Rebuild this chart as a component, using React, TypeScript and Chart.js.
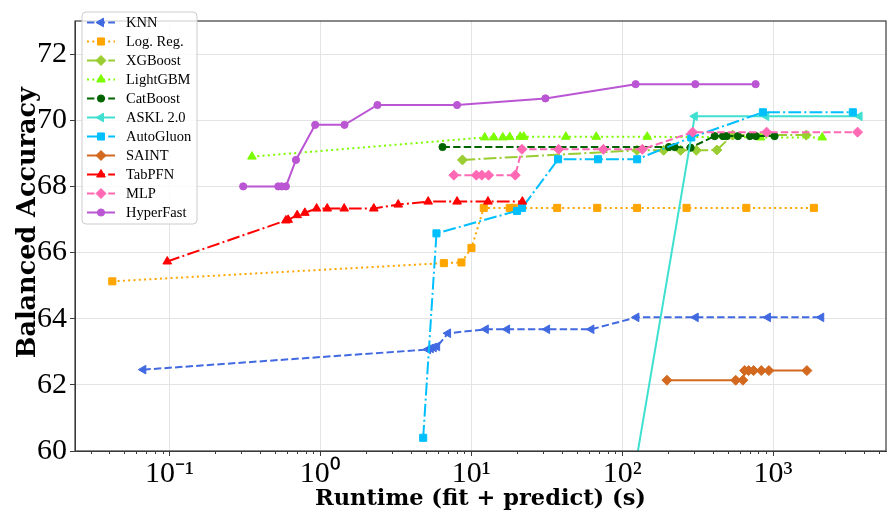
import React, { useEffect, useRef } from 'react';
import { Chart, registerables } from 'chart.js';

Chart.register(...registerables);

// ---------------- data ----------------
const seriesNames = ['KNN', 'Log. Reg.', 'XGBoost', 'LightGBM', 'CatBoost', 'ASKL 2.0', 'AutoGluon', 'SAINT', 'TabPFN', 'MLP', 'HyperFast'];

const knnX = [0.0671, 5.17, 5.39, 5.64, 5.94, 7.02, 12.48, 17.27, 31.8, 62.5, 124.2, 307, 924, 2085];
const knnY = [62.46, 63.07, 63.1, 63.13, 63.16, 63.56, 63.68, 63.68, 63.68, 63.68, 64.04, 64.04, 64.04, 64.04];

const logRegX = [0.0418, 6.58, 8.61, 10.03, 12.1, 17.99, 19.1, 37.1, 68.3, 125.3, 267, 665, 1863];
const logRegY = [65.13, 65.68, 65.7, 66.14, 67.35, 67.35, 67.35, 67.35, 67.35, 67.35, 67.35, 67.35, 67.35];

const xgbX = [8.74, 125.3, 188.3, 244, 310, 424, 539, 1659];
const xgbY = [68.8, 69.09, 69.09, 69.09, 69.09, 69.1, 69.55, 69.55];

const lgbmX = [0.352, 12.28, 14.09, 16.17, 17.99, 21.1, 22.27, 42.3, 67.3, 146.5, 826, 2118];
const lgbmY = [68.9, 69.48, 69.48, 69.48, 69.49, 69.5, 69.5, 69.5, 69.5, 69.5, 69.48, 69.48];

const catX = [6.45, 204, 222.6, 284, 410, 465, 492, 585, 702, 769, 1023];
const catY = [69.19, 69.19, 69.19, 69.17, 69.52, 69.52, 69.52, 69.52, 69.52, 69.52, 69.52];

const asklX = [100, 302.6, 901, 3741];
const asklY = [57.2, 70.12, 70.12, 70.12];

const autoGluonX = [4.8, 5.88, 20.1, 21.7, 37.6, 69.2, 125.7, 287, 856, 3376];
const autoGluonY = [60.4, 66.58, 67.26, 67.35, 68.82, 68.82, 68.82, 69.48, 70.24, 70.24];

const saintX = [198, 565, 631, 648, 688, 743, 835, 938, 1675];
const saintY = [62.14, 62.14, 62.14, 62.43, 62.43, 62.43, 62.43, 62.43, 62.43];

const tabPfnX = [0.0967, 0.591, 0.612, 0.702, 0.789, 0.944, 1.11, 1.438, 2.26, 3.28, 5.18, 8.05, 12.9, 21.8];
const tabPfnY = [65.73, 66.97, 66.99, 67.13, 67.2, 67.33, 67.33, 67.33, 67.33, 67.45, 67.54, 67.54, 67.54, 67.54];

const mlpX = [7.66, 10.8, 11.74, 13.02, 19.56, 21.67, 37.9, 75.1, 136, 293, 906, 3630];
const mlpY = [68.34, 68.34, 68.34, 68.34, 68.34, 69.12, 69.12, 69.12, 69.12, 69.64, 69.64, 69.64];

const hyperFastX = [0.308, 0.526, 0.553, 0.591, 0.689, 0.924, 1.445, 2.39, 8.05, 31.0, 122.8, 305, 766];
const hyperFastY = [68.0, 68.0, 68.0, 68.0, 68.8, 69.86, 69.86, 70.46, 70.46, 70.66, 71.09, 71.09, 71.09];

const xTickValues = [0.1, 1, 10, 100, 1000];
const xTickLabels = ['10\u207B\u00B9', '10\u2070', '10\u00B9', '10\u00B2', '10\u00B3'];
const yTickValues = [60, 62, 64, 66, 68, 70, 72];

const X_MIN = 0.02366;
const X_MAX = 5600;
const Y_MIN = 60;
const Y_MAX = 73;

// ---------------- styles ----------------
const DASHED = [7.4, 3.2];
const DOTTED = [2, 3.3];
const DASHDOT = [12.8, 3.2, 2, 3.2];
const SOLID: number[] = [];

type Style = { color: string; dash: number[]; marker: string; rot: number; r: number };
const styles: Style[] = [
  { color: '#4169E1', dash: DASHED, marker: 'triangle', rot: -90, r: 5 },
  { color: '#FFA500', dash: DOTTED, marker: 'rect', rot: 0, r: 5 },
  { color: '#9ACD32', dash: DASHDOT, marker: 'rectRot', rot: 0, r: 5 },
  { color: '#7CFC00', dash: DOTTED, marker: 'triangle', rot: 0, r: 5 },
  { color: '#006400', dash: DASHED, marker: 'circle', rot: 0, r: 3.6 },
  { color: '#40E0D0', dash: SOLID, marker: 'triangle', rot: -90, r: 5 },
  { color: '#00BFFF', dash: DASHDOT, marker: 'rect', rot: 0, r: 5 },
  { color: '#D2691E', dash: SOLID, marker: 'rectRot', rot: 0, r: 5 },
  { color: '#FF0000', dash: DASHDOT, marker: 'triangle', rot: 0, r: 5 },
  { color: '#FF69B4', dash: DASHED, marker: 'rectRot', rot: 0, r: 5 },
  { color: '#BA55D3', dash: SOLID, marker: 'circle', rot: 0, r: 3.6 },
];

const seriesX = [knnX, logRegX, xgbX, lgbmX, catX, asklX, autoGluonX, saintX, tabPfnX, mlpX, hyperFastX];
const seriesY = [knnY, logRegY, xgbY, lgbmY, catY, asklY, autoGluonY, saintY, tabPfnY, mlpY, hyperFastY];

const SPINE = '#3a3a3a';
const GRID = '#e4e4e4';

function drawMarker(ctx: CanvasRenderingContext2D, kind: string, x: number, y: number, r: number, rotDeg: number) {
  ctx.beginPath();
  if (kind === 'circle') {
    ctx.arc(x, y, r, 0, Math.PI * 2);
  } else if (kind === 'rect') {
    const s = Math.SQRT1_2 * r;
    ctx.rect(x - s, y - s, 2 * s, 2 * s);
  } else if (kind === 'rectRot') {
    ctx.moveTo(x - r, y);
    ctx.lineTo(x, y - r);
    ctx.lineTo(x + r, y);
    ctx.lineTo(x, y + r);
    ctx.closePath();
  } else {
    let rad = (rotDeg * Math.PI) / 180;
    ctx.moveTo(x + Math.sin(rad) * r, y - Math.cos(rad) * r);
    for (let k = 0; k < 2; k++) {
      rad += (2 * Math.PI) / 3;
      ctx.lineTo(x + Math.sin(rad) * r, y - Math.cos(rad) * r);
    }
    ctx.closePath();
  }
  ctx.fill();
  ctx.stroke();
}

const decorPlugin = {
  id: 'decor',
  afterDatasetsDraw(chart: any) {
    const { ctx, chartArea } = chart;
    const { left, right, top, bottom } = chartArea;
    const xs = chart.scales.x;
    ctx.save();
    // minor ticks on x axis
    ctx.strokeStyle = SPINE;
    ctx.lineWidth = 1;
    ctx.setLineDash([]);
    ctx.beginPath();
    for (let d = -2; d <= 3; d++) {
      for (let k = 2; k <= 9; k++) {
        const v = k * Math.pow(10, d);
        if (v < X_MIN || v > X_MAX) continue;
        const px = Math.round(xs.getPixelForValue(v)) + 0.5;
        ctx.moveTo(px, bottom);
        ctx.lineTo(px, bottom + 3);
      }
    }
    ctx.stroke();
    // frame
    ctx.strokeStyle = SPINE;
    ctx.lineWidth = 1.2;
    ctx.strokeRect(left, top, right - left, bottom - top);

    // legend
    const lx = 82, ly = 12, lw = 115, lh = 212, rr = 4;
    ctx.beginPath();
    ctx.moveTo(lx + rr, ly);
    ctx.lineTo(lx + lw - rr, ly);
    ctx.quadraticCurveTo(lx + lw, ly, lx + lw, ly + rr);
    ctx.lineTo(lx + lw, ly + lh - rr);
    ctx.quadraticCurveTo(lx + lw, ly + lh, lx + lw - rr, ly + lh);
    ctx.lineTo(lx + rr, ly + lh);
    ctx.quadraticCurveTo(lx, ly + lh, lx, ly + lh - rr);
    ctx.lineTo(lx, ly + rr);
    ctx.quadraticCurveTo(lx, ly, lx + rr, ly);
    ctx.closePath();
    ctx.fillStyle = 'rgba(255,255,255,0.8)';
    ctx.fill();
    ctx.strokeStyle = '#cccccc';
    ctx.lineWidth = 1;
    ctx.stroke();

    ctx.font = '14.5px "Liberation Serif"';
    ctx.textBaseline = 'middle';
    ctx.textAlign = 'left';
    seriesNames.forEach((name, i) => {
      const st = styles[i];
      const ry = 22.5 + i * 19;
      ctx.strokeStyle = st.color;
      ctx.lineWidth = 2;
      ctx.setLineDash(st.dash);
      ctx.beginPath();
      ctx.moveTo(87, ry);
      ctx.lineTo(115, ry);
      ctx.stroke();
      ctx.setLineDash([]);
      ctx.fillStyle = st.color;
      ctx.lineWidth = 1;
      drawMarker(ctx, st.marker, 101, ry, st.r, st.rot);
      ctx.fillStyle = '#000';
      ctx.fillText(name, 126, ry + 1);
    });
    ctx.restore();
  },
};

export default function App() {
  const ref = useRef<HTMLCanvasElement>(null);
  useEffect(() => {
    const canvas = ref.current;
    if (!canvas) return;
    const datasets = seriesNames.map((name, i) => {
      const st = styles[i];
      return {
        label: name,
        data: seriesX[i].map((x, j) => ({ x, y: seriesY[i][j] })),
        showLine: true,
        borderColor: st.color,
        backgroundColor: st.color,
        borderWidth: 2,
        borderDash: st.dash,
        pointStyle: st.marker,
        pointRotation: st.rot,
        pointRadius: st.r,
        pointBorderWidth: 1,
        pointBorderColor: st.color,
        pointBackgroundColor: st.color,
        tension: 0,
        fill: false,
        clip: 0,
        order: seriesNames.length - i,
      };
    });
    const chart = new Chart(canvas, {
      type: 'scatter',
      data: { datasets } as any,
      plugins: [decorPlugin as any],
      options: {
        responsive: false,
        animation: false,
        devicePixelRatio: 1,
        events: [],
        layout: { padding: { top: 4, right: 5, left: 0, bottom: 0 } },
        plugins: { legend: { display: false }, tooltip: { enabled: false } },
        scales: {
          x: {
            type: 'logarithmic',
            min: X_MIN,
            max: X_MAX,
            afterBuildTicks: (s: any) => {
              s.ticks = xTickValues.map((v) => ({ value: v }));
            },
            afterFit: (s: any) => {
              s.height = 63;
            },
            ticks: {
              autoSkip: false,
              maxRotation: 0,
              padding: 0,
              color: '#000',
              font: { family: 'Liberation Serif', size: 30 },
              callback: (v: any) => {
                const idx = xTickValues.findIndex((t) => Math.abs(Math.log10(t) - Math.log10(v)) < 1e-6);
                return idx >= 0 ? xTickLabels[idx] : '';
              },
            },
            grid: { color: GRID, lineWidth: 1, tickLength: 5, tickColor: SPINE, drawTicks: true },
            border: { display: true, color: SPINE, width: 1 },
            title: {
              display: true,
              text: 'Runtime (fit + predict) (s)',
              color: '#000',
              font: { family: 'DejaVu Serif', weight: 'bold', size: 22.5 },
              padding: { top: 0, bottom: 1 },
            },
          },
          y: {
            type: 'linear',
            min: Y_MIN,
            max: Y_MAX,
            afterBuildTicks: (s: any) => {
              s.ticks = yTickValues.map((v) => ({ value: v }));
            },
            afterFit: (s: any) => {
              s.width = 75;
            },
            ticks: {
              padding: 3,
              color: '#000',
              font: { family: 'Liberation Serif', size: 30 },
              callback: (v: any) => String(v),
            },
            grid: { color: GRID, lineWidth: 1, tickLength: 5, tickColor: SPINE, drawTicks: true },
            border: { display: true, color: SPINE, width: 1 },
            title: {
              display: true,
              text: '   Balanced Accuracy',
              color: '#000',
              font: { family: 'DejaVu Serif', weight: 'bold', size: 25.5 },
              padding: { top: 13, bottom: 0 },
            },
          },
        },
      } as any,
    });
    return () => chart.destroy();
  }, []);
  return (
    <div style={{ position: 'absolute', left: 0, top: 0, width: 892, height: 514, background: '#fff' }}>
      <canvas ref={ref} width={892} height={514} style={{ display: 'block', width: 892, height: 514 }} />
    </div>
  );
}
